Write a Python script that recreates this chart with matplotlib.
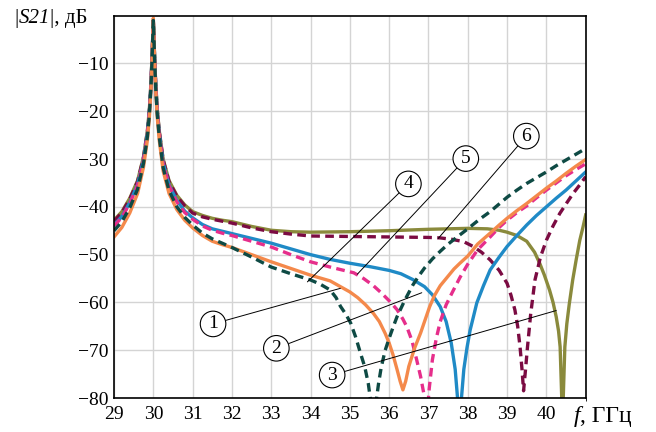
import matplotlib.pyplot as plt

plt.rcParams['font.family'] = ['Liberation Serif', 'DejaVu Serif']

# -------------------------------
# Data: frequency (GHz) and |S21| (dB)
# -------------------------------
# shared frequency points up to 34 GHz (resonance at 30 GHz)
f_head = [29.0, 29.2, 29.4, 29.6, 29.75, 29.85, 29.9, 29.94, 29.97, 30.0,
          30.03, 30.06, 30.1, 30.15, 30.25, 30.4, 30.6, 30.8, 31.0, 31.25,
          31.5, 31.75, 32.0, 32.5, 33.0, 33.5, 34.0]

s_head_1 = [-46.3, -44.3, -41.3, -37.2, -31.7, -26, -21.2, -15.5, -9, -0.5,
            -9, -15.5, -21.2, -26, -32.5, -37.2, -40.6, -42.8, -44.4, -46,
            -47.2, -47.9, -48.5, -50, -51.5, -52.9, -54.3]
s_head_2 = [-43.8, -42, -39.1, -35.3, -30.2, -24.6, -20, -14.4, -8.3, -1,
            -8.3, -14.4, -20, -24.6, -30.8, -35.4, -38.7, -40.9, -42.3, -43.7,
            -44.6, -45.1, -45.6, -46.6, -47.6, -48.8, -50]
s_head_3 = [-42.8, -41, -38.2, -34.5, -29.5, -24, -19.5, -14, -8, -1,
            -8, -14, -19.5, -24, -30, -34.5, -37.6, -39.6, -41, -41.8,
            -42.4, -42.8, -43.1, -44.1, -44.9, -45.2, -45.3]
s_head_4 = [-45, -43.1, -40.2, -36.3, -30.9, -25.3, -20.6, -15, -8.7, -1,
            -8.7, -15, -20.6, -25.3, -31.8, -36.6, -40, -42.2, -43.8, -45.5,
            -46.7, -47.6, -48.5, -50.5, -52.6, -54, -55.3]
s_head_5 = [-44, -42.2, -39.3, -35.5, -30.3, -24.7, -20.1, -14.5, -8.4, -1,
            -8.4, -14.5, -20.1, -24.7, -31, -35.6, -39, -41.2, -42.6, -44,
            -44.9, -45.5, -46, -47.2, -48.4, -50, -51.5]
s_head_6 = [-43, -41.2, -38.4, -34.7, -29.7, -24.2, -19.7, -14.2, -8.1, -1,
            -8.1, -14.2, -19.7, -24.2, -30.2, -34.7, -37.8, -39.8, -41.3, -42.1,
            -42.6, -43, -43.4, -44.4, -45.2, -45.7, -46.1]

# curve-specific points above 34 GHz
f_tail_1 = [34.5, 34.76, 35.0, 35.2, 35.4, 35.6, 35.75, 35.9, 36.0, 36.1, 36.2, 36.28,
            36.35, 36.42, 36.5, 36.65, 36.8, 36.9, 37.03, 37.15, 37.3, 37.45, 37.65, 37.8,
            38.0, 38.25, 38.57, 38.8, 39.0, 39.25, 39.5, 39.75, 40.0, 40.25, 40.5, 40.75, 41.0]
s_tail_1 = [-55.5, -56.7, -57.8, -59, -60.5, -62.3, -64, -66.5, -68.5, -71, -74, -76.5,
            -78.3, -76.5, -73.4, -69.5, -66.4, -64, -60.9, -58.6, -56.5, -55, -53, -51.8,
            -50.3, -47.8, -45.5, -43.8, -42.4, -40.8, -39.3, -37.7, -36.1, -34.6, -33, -31.5, -30.1]

f_tail_2 = [34.5, 35.0, 35.5, 36.0, 36.3, 36.6, 36.9, 37.1, 37.3, 37.45, 37.58, 37.68,
            37.79, 37.9, 37.98, 38.06, 38.15, 38.23, 38.4, 38.57, 38.8, 39.0, 39.25, 39.5,
            39.75, 40.0, 40.25, 40.5, 40.75, 41.0]
s_tail_2 = [-51, -51.8, -52.5, -53.3, -54, -55.2, -56.7, -58.4, -60.9, -64, -68.5, -74,
            -85, -74, -69.5, -65.8, -62.8, -60.1, -56.5, -53.2, -50.5, -48.3, -46, -43.8,
            -41.8, -40, -38.2, -36.5, -34.6, -32.7]

f_tail_3 = [35.0, 36.0, 37.0, 38.0, 38.5, 38.8, 39.0, 39.25, 39.5, 39.7, 39.83, 39.95,
            40.08, 40.17, 40.25, 40.31, 40.35, 40.41, 40.47, 40.52, 40.58, 40.67, 40.76,
            40.85, 40.93, 41.0]
s_tail_3 = [-45.2, -45, -44.7, -44.5, -44.6, -44.9, -45.3, -46, -47.2, -49.5, -51.8, -54.3,
            -57.4, -60, -63, -66, -69.3, -85, -69.3, -64.5, -60.5, -55.3, -51,
            -47, -44.3, -41.7]

f_tail_4 = [34.25, 34.5, 34.65, 34.76, 34.9, 35.02, 35.15, 35.27, 35.38, 35.47, 35.6, 35.73,
            35.8, 35.9, 36.0, 36.1, 36.2, 36.4, 36.6, 36.75, 36.9, 37.1, 37.3, 37.5, 37.7,
            38.0, 38.3, 38.57, 38.8, 39.0, 39.25, 39.5, 39.75, 40.0, 40.25, 40.5, 40.75, 41.0]
s_tail_4 = [-56.2, -57.4, -59, -60.8, -62.5, -64.3, -67.3, -70.6, -73.5, -77, -85, -77,
            -73.5, -70, -67.5, -65.2, -63, -59.5, -56.4, -54.5, -52.8, -50.9, -49.3, -47.8, -46.5,
            -44.6, -42.6, -41, -39.4, -38, -36.5, -35.1, -33.9, -32.7, -31.4, -30.2, -29, -27.8]

f_tail_5 = [34.5, 35.1, 35.35, 35.6, 35.8, 36.03, 36.2, 36.35, 36.45, 36.58, 36.7, 36.8,
            36.88, 36.95, 37.02, 37.1, 37.2, 37.3, 37.45, 37.6, 37.8, 38.0, 38.25, 38.57,
            38.8, 39.0, 39.25, 39.5, 39.75, 40.0, 40.25, 40.5, 40.75, 41.0]
s_tail_5 = [-52.6, -53.8, -55, -56.5, -58, -59.9, -61.5, -63.5, -65.1, -68, -72, -75.5,
            -79, -85, -78, -72, -67.5, -64, -60.5, -58, -54.8, -52, -49, -46.3,
            -44.3, -42.8, -41.2, -39.8, -38.1, -36.5, -35, -33.5, -32.2, -31]

f_tail_6 = [35.0, 36.0, 37.0, 37.3, 37.6, 37.9, 38.14, 38.35, 38.57, 38.8, 39.0, 39.1,
            39.2, 39.27, 39.33, 39.38, 39.42, 39.47, 39.52, 39.6, 39.71, 39.85, 40.0,
            40.17, 40.34, 40.5, 40.68, 40.85, 41.0]
s_tail_6 = [-46.2, -46.3, -46.4, -46.5, -46.8, -47.3, -48.3, -49.5, -51.1, -53.3, -56, -58.5,
            -61.6, -65, -69.3, -74, -78.5, -74, -69.3, -62.5, -55.3, -50.5, -47,
            -44, -41.4, -39.4, -37.2, -35.4, -33.7]

x_ticks = list(range(29, 41))
y_ticks = [-10, -20, -30, -40, -50, -60, -70, -80]

# -------------------------------
# Figure
# -------------------------------
fig = plt.figure(figsize=(6.56, 4.32), dpi=100)
ax = fig.add_axes([0.1738, 0.0787, 0.719, 0.885])

dash = (0, (2.6, 1.6))
curves = [
    (f_head + f_tail_3, s_head_3 + s_tail_3, '#8a8a3c', '-'),
    (f_head + f_tail_6, s_head_6 + s_tail_6, '#7b0b42', dash),
    (f_head + f_tail_2, s_head_2 + s_tail_2, '#1f8ac6', '-'),
    (f_head + f_tail_5, s_head_5 + s_tail_5, '#e62e8b', dash),
    (f_head + f_tail_1, s_head_1 + s_tail_1, '#f4894b', '-'),
    (f_head + f_tail_4, s_head_4 + s_tail_4, '#0e4a44', dash),
]
for f, s, c, ls in curves:
    ax.plot(f, s, color=c, linestyle=ls, linewidth=2.4, solid_joinstyle='round')

ax.set_xlim(29, 41)
ax.set_ylim(-80, 0)
ax.set_xticks(x_ticks)
ax.set_yticks(y_ticks)
ax.set_xticklabels([str(v) for v in x_ticks])
ax.set_yticklabels(['\u2212' + str(-v) for v in y_ticks])
ax.grid(True, color='#d4d4d4', linewidth=1)
ax.set_xticks([41], minor=True)
ax.grid(True, which='minor', axis='x', color='#d4d4d4', linewidth=1)
ax.tick_params(length=0, labelsize=14, pad=6)
ax.tick_params(axis='y', pad=4)
for sp in ax.spines.values():
    sp.set_linewidth(1.2)

# axis titles built from pieces (italic symbol + upright rest)
t = fig.text(0.022, 0.935, '|', fontsize=15, ha='left', va='bottom')
t = ax.annotate('S21', xy=(1, 0), xycoords=t, fontsize=15, style='italic',
                ha='left', va='bottom')
ax.annotate('|, дБ', xy=(1, 0), xycoords=t, fontsize=15, ha='left', va='bottom')

t = fig.text(0.874, 0.012, 'f', fontsize=17, style='italic', ha='left', va='bottom')
ax.annotate(', ГГц', xy=(1, 0), xycoords=t, fontsize=17, ha='left', va='bottom')

# numbered callouts
callouts = [
    ('1', (31.52, -64.5), (34.76, -57.05)),
    ('2', (33.13, -69.6), (36.83, -57.97)),
    ('3', (34.55, -75.2), (40.25, -61.7)),
    ('4', (36.49, -35.2), (33.92, -55.7)),
    ('5', (37.95, -29.9), (35.19, -54.1)),
    ('6', (39.49, -25.2), (37.25, -46.6)),
]
for txt, pos, tgt in callouts:
    ax.annotate(txt, xy=tgt, xytext=pos, fontsize=14, ha='center', va='center',
                bbox=dict(boxstyle='circle,pad=0.22', fc='white', ec='black', lw=0.8),
                arrowprops=dict(arrowstyle='-', color='black', lw=0.7,
                                shrinkA=0, shrinkB=0))

fig.savefig('out.png', dpi=100)
